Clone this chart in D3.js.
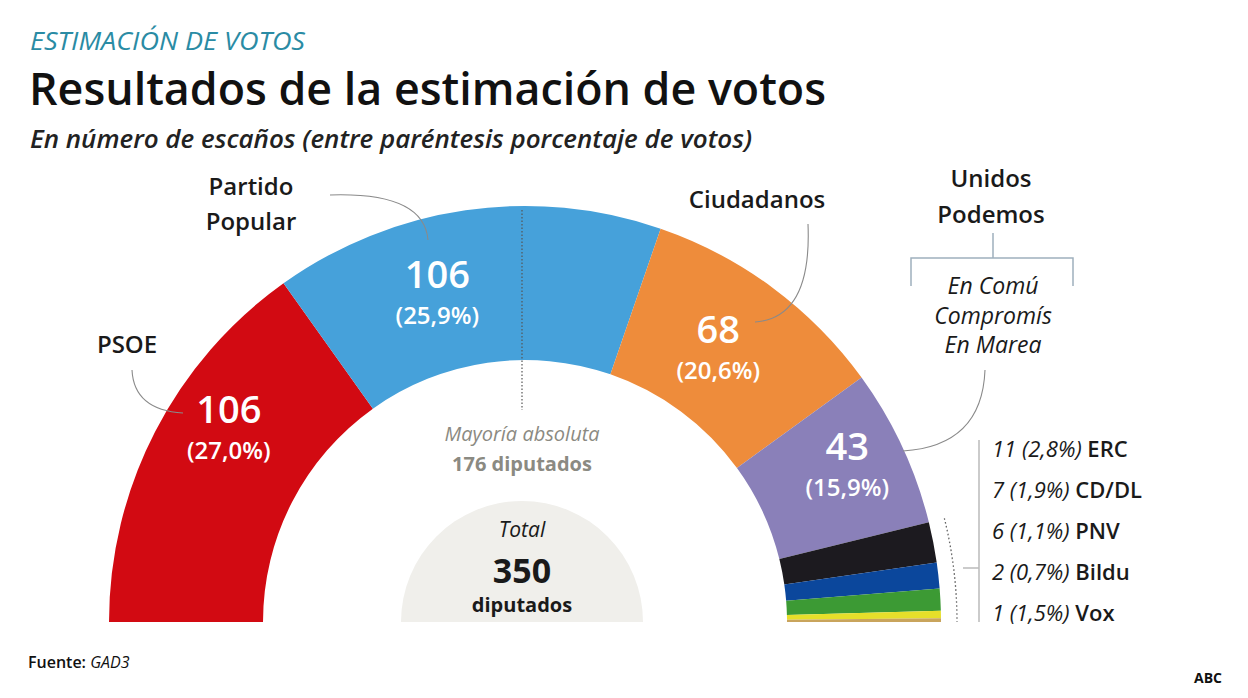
<!DOCTYPE html>
<html><head><meta charset="utf-8">
<script src="https://cdn.jsdelivr.net/npm/d3@7"></script>
<style>
html,body{margin:0;padding:0;background:#fff;}
svg{display:block;font-family:"Open Sans","Noto Sans",sans-serif;}
</style></head>
<body><svg id="c" width="1248" height="698"></svg>
<script>
const parties = ["PSOE","Partido Popular","Ciudadanos","Unidos Podemos","ERC","CD/DL","PNV","Bildu","Vox"];
const seats = [106,106,68,43,11,7,6,2,1];
const votePct = ["27,0%","25,9%","20,6%","15,9%","2,8%","1,9%","1,1%","0,7%","1,5%"];
const colors = ["#d20a12","#46a1da","#ee8c3b","#8a80b9","#1c1a1f","#0b479c","#3c9a34","#e6df2a","#c9a45c"];
const totalSeats = 350;
const majority = 176;
const coalitionMembers = ["En Comú","Compromís","En Marea"];
const smallParties = ["ERC","CD/DL","PNV","Bildu","Vox"];

const svg = d3.select("#c");
const cx = 525, cy = 622, rOuter = 416, rInner = 262;

const angle = d3.scaleLinear().domain([0, totalSeats]).range([-Math.PI/2, Math.PI/2]);
const cum = [0, ...d3.cumsum(seats)];
const slices = seats.map((s,i)=>({name:parties[i], seats:s, pct:votePct[i], color:colors[i],
  startAngle: angle(cum[i]), endAngle: angle(cum[i+1])}));

const arc = d3.arc().innerRadius(rInner).outerRadius(rOuter);
const g = svg.append("g").attr("transform",`translate(${cx},${cy})`);

// central grey semicircle
g.append("path")
  .attr("d", d3.arc().innerRadius(0).outerRadius(121).startAngle(-Math.PI/2).endAngle(Math.PI/2)())
  .attr("fill","#f0efeb").attr("transform","translate(-3,0)");

g.selectAll("path.slice").data(slices).join("path").attr("class","slice")
  .attr("d", arc).attr("fill", d=>d.color);

// majority line
const mA = angle(totalSeats/2);
g.append("line")
  .attr("x1", Math.sin(mA)*(rInner-50) - 3).attr("y1", -Math.cos(mA)*(rInner+ 150))
  .attr("x2", Math.sin(mA)*(rInner-50) - 3).attr("y2", -Math.cos(mA)*(rInner- 50))
  .attr("stroke","#555").attr("stroke-width",1.2).attr("stroke-dasharray","1.5,2");

// value labels
const labelArc = d3.arc().innerRadius(340).outerRadius(340);
const offsets = [[6,-37],[-39,8],[-9,0],[14,-13]];
slices.slice(0,4).forEach((d,i)=>{
  const [x,y] = labelArc.centroid(d);
  const ax = x + offsets[i][0], ay = y + offsets[i][1];
  g.append("text").attr("x",ax).attr("y",ay-6).attr("text-anchor","middle")
    .attr("fill","#fff").attr("font-size",38).attr("font-weight",600).text(d.seats);
  g.append("text").attr("x",ax).attr("y",ay+30).attr("text-anchor","middle")
    .attr("fill","#fff").attr("font-size",24).attr("font-weight",600).text(`(${d.pct})`);
});

// dotted arc next to small parties
g.append("path")
  .attr("d", d3.arc().innerRadius(rOuter+16).outerRadius(rOuter+16)
     .startAngle(angle(cum[4])).endAngle(angle(totalSeats))())
  .attr("fill","none").attr("stroke","#666").attr("stroke-width",1.3).attr("stroke-dasharray","1.5,2.5");

// headings
svg.append("text").attr("x",30).attr("y",50).attr("font-size",26).attr("font-style","italic")
  .attr("fill","#2a8ba4").attr("textLength",275).attr("lengthAdjust","spacingAndGlyphs")
  .text("ESTIMACIÓN DE VOTOS");
svg.append("text").attr("x",29).attr("y",105).attr("font-size",46).attr("font-weight",600)
  .attr("fill","#111").attr("textLength",797).attr("lengthAdjust","spacingAndGlyphs")
  .text("Resultados de la estimación de votos");
svg.append("text").attr("x",30).attr("y",148).attr("font-size",25).attr("font-weight",600).attr("font-style","italic")
  .attr("fill","#222").attr("textLength",722).attr("lengthAdjust","spacingAndGlyphs")
  .text("En número de escaños (entre paréntesis porcentaje de votos)");

// party name labels
const nameStyle = sel => sel.attr("font-size",24).attr("font-weight",600).attr("fill","#1a1a1a").attr("text-anchor","middle");
svg.append("text").attr("x",251).attr("y",195).call(nameStyle).text("Partido");
svg.append("text").attr("x",251).attr("y",230).call(nameStyle).text("Popular");
svg.append("text").attr("x",127).attr("y",353).call(nameStyle).text(parties[0]);
svg.append("text").attr("x",757).attr("y",208).call(nameStyle).text(parties[2]);
svg.append("text").attr("x",991).attr("y",187).call(nameStyle).text("Unidos");
svg.append("text").attr("x",991).attr("y",223).call(nameStyle).text("Podemos");
coalitionMembers.forEach((m,i)=>{
  svg.append("text").attr("x",993).attr("y",294+i*29.5).attr("text-anchor","middle")
    .attr("font-size",23).attr("font-style","italic").attr("fill","#1a1a1a").text(m);
});

// bracket
const br = "#9fb0bd";
svg.append("path").attr("d","M993,233 V258 M911,286 V258 H1073 V286")
  .attr("fill","none").attr("stroke",br).attr("stroke-width",1.5);

// leader lines
const lead = "#8a8a8a";
[ "M330,195 Q424,192 428,240",
  "M132,370 Q134,410 183,413",
  "M808,224 Q812,318 755,322",
  "M985,370 Q982,446 903,451"
].forEach(p=> svg.append("path").attr("d",p).attr("fill","none").attr("stroke",lead).attr("stroke-width",1.1));

// majority text
svg.append("text").attr("x",522).attr("y",441).attr("text-anchor","middle").attr("font-size",20)
  .attr("font-style","italic").attr("fill","#8b8a82").text("Mayoría absoluta");
svg.append("text").attr("x",522).attr("y",471).attr("text-anchor","middle").attr("font-size",20)
  .attr("font-weight",700).attr("fill","#8b8a82").text(`${majority} diputados`);

// total
svg.append("text").attr("x",522).attr("y",537).attr("text-anchor","middle").attr("font-size",21)
  .attr("font-style","italic").attr("fill","#1a1a1a").text("Total");
svg.append("text").attr("x",522).attr("y",583).attr("text-anchor","middle").attr("font-size",34)
  .attr("font-weight",700).attr("fill","#1a1a1a").text(totalSeats);
svg.append("text").attr("x",522).attr("y",612).attr("text-anchor","middle").attr("font-size",20)
  .attr("font-weight",700).attr("fill","#1a1a1a").text("diputados");

// small parties legend
svg.append("path").attr("d","M979,440 V622 M963,568 H979").attr("fill","none").attr("stroke","#bbb").attr("stroke-width",1.5);
smallParties.forEach((name,i)=>{
  const idx = parties.indexOf(name);
  const t = svg.append("text").attr("x",992).attr("y",457+i*41).attr("font-size",22).attr("fill","#1a1a1a");
  t.append("tspan").attr("font-style","italic").text(`${seats[idx]} (${votePct[idx]})`);
  t.append("tspan").attr("font-weight",600).text(" "+name);
});

// footer
const f = svg.append("text").attr("x",28).attr("y",668).attr("font-size",16).attr("fill","#111");
f.append("tspan").attr("font-weight",600).text("Fuente: ");
f.append("tspan").attr("font-style","italic").text("GAD3");
svg.append("text").attr("x",1222).attr("y",683).attr("text-anchor","end").attr("font-size",14)
  .attr("font-weight",700).attr("fill","#111").text("ABC");
</script></body></html>
